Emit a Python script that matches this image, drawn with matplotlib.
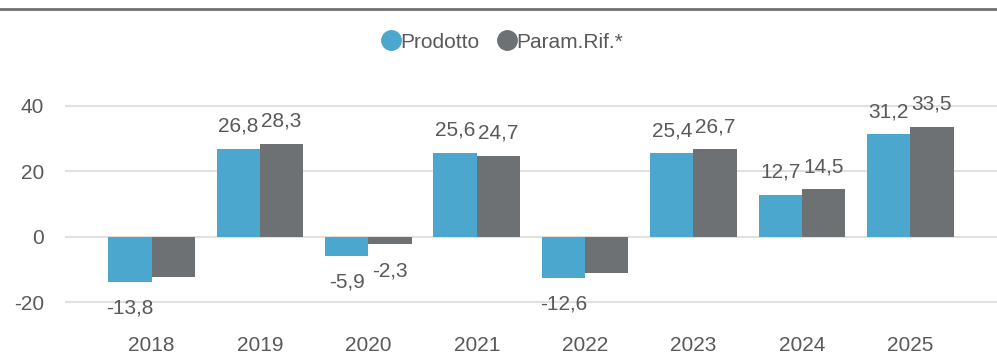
import matplotlib
matplotlib.use("Agg")
import matplotlib.pyplot as plt
from matplotlib.lines import Line2D
import numpy as np

plt.rcParams['font.family'] = ['Liberation Sans', 'DejaVu Sans']

years = ["2018", "2019", "2020", "2021", "2022", "2023", "2024", "2025"]
prodotto = [-13.8, 26.8, -5.9, 25.6, -12.6, 25.4, 12.7, 31.2]
param_rif = [-12.1, 28.3, -2.3, 24.7, -10.9, 26.7, 14.5, 33.5]
# value labels that are printed (crowded negatives are left unlabelled)
show_prodotto = [True, True, True, True, True, True, True, True]
show_param = [False, True, True, True, False, True, True, True]
series_names = ["Prodotto", "Param.Rif.*"]
yticks = [-20, 0, 20, 40]

blue = "#4BA7CE"
grey = "#6E7174"
text_col = "#595959"
grid_col = "#E3DFDB"

fig = plt.figure(figsize=(9.97, 3.55), dpi=100)
ax = fig.add_axes([0.065, 0.0704, 0.935, 0.733])

x = np.arange(len(years))
w = 0.40
ax.bar(x - w / 2, prodotto, w, color=blue, zorder=3)
ax.bar(x + w / 2, param_rif, w, color=grey, zorder=3)

def fmt(v):
    return f"{v:.1f}".replace(".", ",")

for i in range(len(years)):
    for vals, shows, dx in ((prodotto, show_prodotto, -w / 2), (param_rif, show_param, w / 2)):
        v = vals[i]
        if not shows[i]:
            continue
        xx = x[i] + dx
        if v >= 0:
            ax.annotate(fmt(v), (xx, v), xytext=(0, 9.5), textcoords="offset points",
                        ha="center", va="bottom", fontsize=15, color=text_col)
        else:
            ax.annotate(fmt(v), (xx, v), xytext=(0, -12), textcoords="offset points",
                        ha="center", va="top", fontsize=15, color=text_col)

ax.set_xlim(-0.8, 7.8)
ax.set_ylim(-28.4, 50.9)
ax.set_yticks(yticks)
ax.set_yticklabels([str(t) for t in yticks])
ax.set_xticks(x)
ax.set_xticklabels(years)
ax.tick_params(axis="both", length=0, labelsize=15, labelcolor=text_col)
ax.tick_params(axis="y", pad=15)
ax.tick_params(axis="x", pad=4)
ax.grid(axis="y", color=grid_col, linewidth=1.5, zorder=0)
for s in ax.spines.values():
    s.set_visible(False)

# separator line across the top of the figure
fig.add_artist(Line2D([0, 1], [1 - 8.5 / 355, 1 - 8.5 / 355], transform=fig.transFigure,
                      color="#707070", linewidth=2))

handles = [Line2D([], [], marker="o", linestyle="none", markersize=14, color=c)
           for c in (blue, grey)]
fig.legend(handles, series_names, loc="center", bbox_to_anchor=(0.503, 1 - 42 / 355),
           ncol=2, frameon=False, fontsize=15, labelcolor=text_col,
           handletextpad=-0.1, columnspacing=0.75, handlelength=1.1)

fig.savefig("out.png", dpi=100)
